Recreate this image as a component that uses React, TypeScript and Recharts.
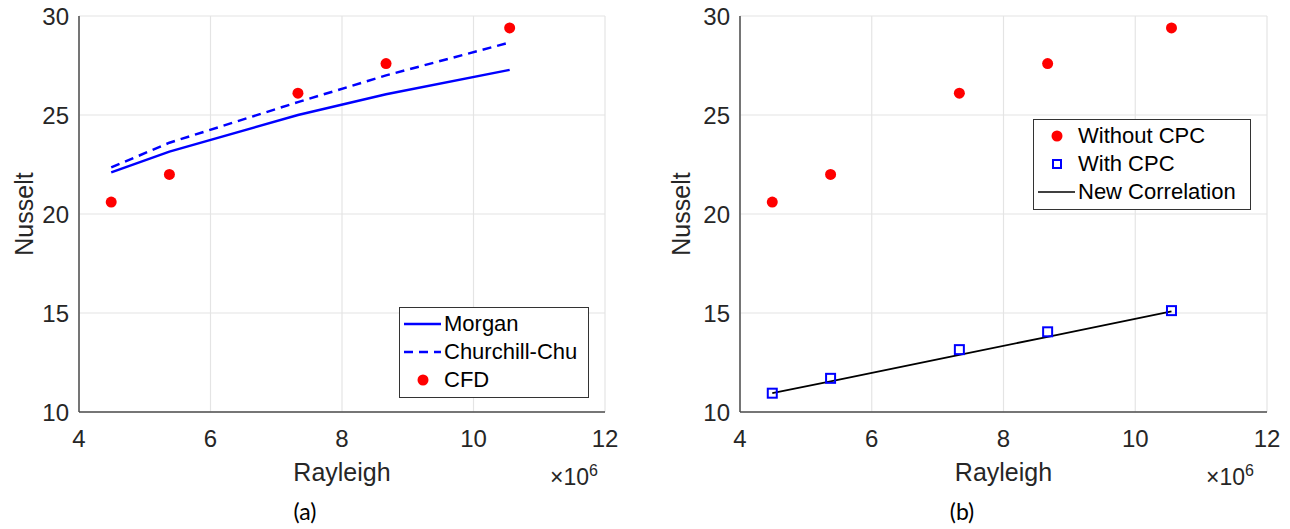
import {
	CartesianGrid,
	ComposedChart,
	Line,
	Scatter,
	XAxis,
	YAxis,
} from "recharts";

// Rayleigh number (x 10^6) for the five cases
const rayleigh = [4.49, 5.375, 7.33, 8.67, 10.55];
// panel (a)
const morgan = [22.1, 23.15, 25.0, 26.05, 27.28];
const churchillChu = [22.35, 23.6, 25.65, 27.0, 28.66];
const cfd = [20.6, 22.0, 26.1, 27.6, 29.4];
// panel (b)
const withoutCpc = [20.6, 22.0, 26.1, 27.6, 29.4];
const withCpc = [10.95, 11.7, 13.15, 14.05, 15.12];
const newCorrelation = [10.95, 11.55, 12.89, 13.8, 15.08];

const xTicks = [4, 6, 8, 10, 12];
const yTicks = [10, 15, 20, 25, 30];

const toPoints = (ys: number[]) => rayleigh.map((x, i) => ({ x, y: ys[i] }));

const FONT = "'Liberation Sans', Arial, sans-serif";
const TEXT = "#262626";
const AXIS = "#4d4d4d";
const GRID = "#e4e4e4";

const tickStyle = { fontSize: 24, fill: TEXT, fontFamily: FONT };

const RedDot = (props: any) => (
	<circle cx={props.cx} cy={props.cy} r={5.5} fill="#ff0000" />
);

const BlueSquare = (props: any) => (
	<rect
		x={props.cx - 4.5}
		y={props.cy - 4.5}
		width={9}
		height={9}
		fill="none"
		stroke="#0000ff"
		strokeWidth={2}
	/>
);

type LegendRow = { label: string; kind: "line" | "dash" | "dot" | "square" | "black" };

function LegendBox({
	rows,
	left,
	top,
	width,
}: {
	rows: LegendRow[];
	left: number;
	top: number;
	width: number;
}) {
	return (
		<div
			style={{
				position: "absolute",
				left,
				top,
				width,
				boxSizing: "border-box",
				border: "1.5px solid #333",
				background: "#fff",
				padding: "2px 4px 3px 4px",
				fontFamily: FONT,
				fontSize: 22,
				color: "#000",
			}}
		>
			{rows.map((r) => (
				<div
					key={r.label}
					style={{ display: "flex", alignItems: "center", height: 28, lineHeight: "28px" }}
				>
					<svg width={38} height={28} style={{ marginRight: 2, flex: "none" }}>
						{r.kind === "line" && (
							<line x1={0} x2={37} y1={14} y2={14} stroke="#0000ff" strokeWidth={2.5} />
						)}
						{r.kind === "dash" && (
							<line
								x1={0}
								x2={37}
								y1={14}
								y2={14}
								stroke="#0000ff"
								strokeWidth={2.5}
								strokeDasharray="9 6"
							/>
						)}
						{r.kind === "black" && (
							<line x1={0} x2={37} y1={14} y2={14} stroke="#000" strokeWidth={1.5} />
						)}
						{r.kind === "dot" && <circle cx={19} cy={14} r={5.5} fill="#ff0000" />}
						{r.kind === "square" && (
							<rect
								x={15}
								y={10}
								width={8}
								height={8}
								fill="none"
								stroke="#0000ff"
								strokeWidth={2}
							/>
						)}
					</svg>
					<span style={{ whiteSpace: "nowrap" }}>{r.label}</span>
				</div>
			))}
		</div>
	);
}

export default function App() {
	const morganPts = toPoints(morgan);
	const ccPts = toPoints(churchillChu);
	const cfdPts = toPoints(cfd);
	const woPts = toPoints(withoutCpc);
	const wPts = toPoints(withCpc);
	const ncPts = toPoints(newCorrelation);

	const xAxisProps = {
		type: "number" as const,
		dataKey: "x",
		domain: [4, 12],
		ticks: xTicks,
		tick: tickStyle,
		tickSize: 0,
		tickMargin: 18,
		height: 117,
		axisLine: { stroke: AXIS, strokeWidth: 1.5 },
		allowDataOverflow: true,
	};
	const yAxisProps = {
		type: "number" as const,
		dataKey: "y",
		domain: [10, 30],
		ticks: yTicks,
		tick: tickStyle,
		tickSize: 0,
		tickMargin: 10,
		axisLine: { stroke: AXIS, strokeWidth: 1.5 },
		allowDataOverflow: true,
	};
	const xLabel = {
		value: "Rayleigh",
		position: "insideBottom" as const,
		offset: 48,
		style: { fontSize: 25, fill: TEXT, fontFamily: FONT },
	};

	return (
		<div
			style={{
				position: "absolute",
				left: 0,
				top: 0,
				width: 1290,
				height: 529,
				background: "#fff",
				fontFamily: FONT,
			}}
		>
			{/* panel (a) */}
			<div style={{ position: "absolute", left: 0, top: 0 }}>
				<ComposedChart width={640} height={529} margin={{ top: 16, right: 35, left: 0, bottom: 0 }}>
					<CartesianGrid stroke={GRID} strokeWidth={1.2} />
					<XAxis {...xAxisProps} label={xLabel} />
					<YAxis
						{...yAxisProps}
						width={79}
						label={{
							value: "Nusselt",
							angle: -90,
							position: "insideLeft",
							offset: 24,
							style: { textAnchor: "middle", fontSize: 25, fill: TEXT, fontFamily: FONT },
						}}
					/>
					<Line
						data={morganPts}
						dataKey="y"
						type="linear"
						stroke="#0000ff"
						strokeWidth={2.5}
						dot={false}
						isAnimationActive={false}
					/>
					<Line
						data={ccPts}
						dataKey="y"
						type="linear"
						stroke="#0000ff"
						strokeWidth={2.5}
						strokeDasharray="9 6"
						dot={false}
						isAnimationActive={false}
					/>
					<Scatter data={cfdPts} dataKey="y" shape={RedDot} isAnimationActive={false} />
				</ComposedChart>
			</div>
			<LegendBox
				left={399}
				top={307}
				width={190}
				rows={[
					{ label: "Morgan", kind: "line" },
					{ label: "Churchill-Chu", kind: "dash" },
					{ label: "CFD", kind: "dot" },
				]}
			/>

			{/* panel (b) */}
			<div style={{ position: "absolute", left: 650, top: 0 }}>
				<ComposedChart width={640} height={529} margin={{ top: 16, right: 23, left: 0, bottom: 0 }}>
					<CartesianGrid stroke={GRID} strokeWidth={1.2} />
					<XAxis {...xAxisProps} label={xLabel} />
					<YAxis
						{...yAxisProps}
						width={90}
						label={{
							value: "Nusselt",
							angle: -90,
							position: "insideLeft",
							offset: 31,
							style: { textAnchor: "middle", fontSize: 25, fill: TEXT, fontFamily: FONT },
						}}
					/>
					<Scatter data={woPts} dataKey="y" shape={RedDot} isAnimationActive={false} />
					<Line
						data={ncPts}
						dataKey="y"
						type="linear"
						stroke="#000"
						strokeWidth={1.8}
						dot={false}
						isAnimationActive={false}
					/>
					<Scatter data={wPts} dataKey="y" shape={BlueSquare} isAnimationActive={false} />
				</ComposedChart>
			</div>
			<LegendBox
				left={1033}
				top={119}
				width={218}
				rows={[
					{ label: "Without CPC", kind: "dot" },
					{ label: "With CPC", kind: "square" },
					{ label: "New Correlation", kind: "black" },
				]}
			/>

			{/* x 10^6 multipliers */}
			{[550, 1206].map((left) => (
				<div
					key={left}
					style={{
						position: "absolute",
						left,
						top: 462,
						fontSize: 23,
						color: TEXT,
						fontFamily: FONT,
						whiteSpace: "nowrap",
					}}
				>
					×10<sup style={{ fontSize: 16 }}>6</sup>
				</div>
			))}

			{/* panel captions */}
			{[
				{ t: "(a)", x: 305 },
				{ t: "(b)", x: 962 },
			].map((c) => (
				<div
					key={c.t}
					style={{
						position: "absolute",
						left: c.x - 20,
						width: 40,
						top: 497,
						textAlign: "center",
						fontSize: 23,
						fontFamily: "Lato, 'Open Sans', sans-serif",
						color: "#000",
					}}
				>
					{c.t}
				</div>
			))}
		</div>
	);
}
